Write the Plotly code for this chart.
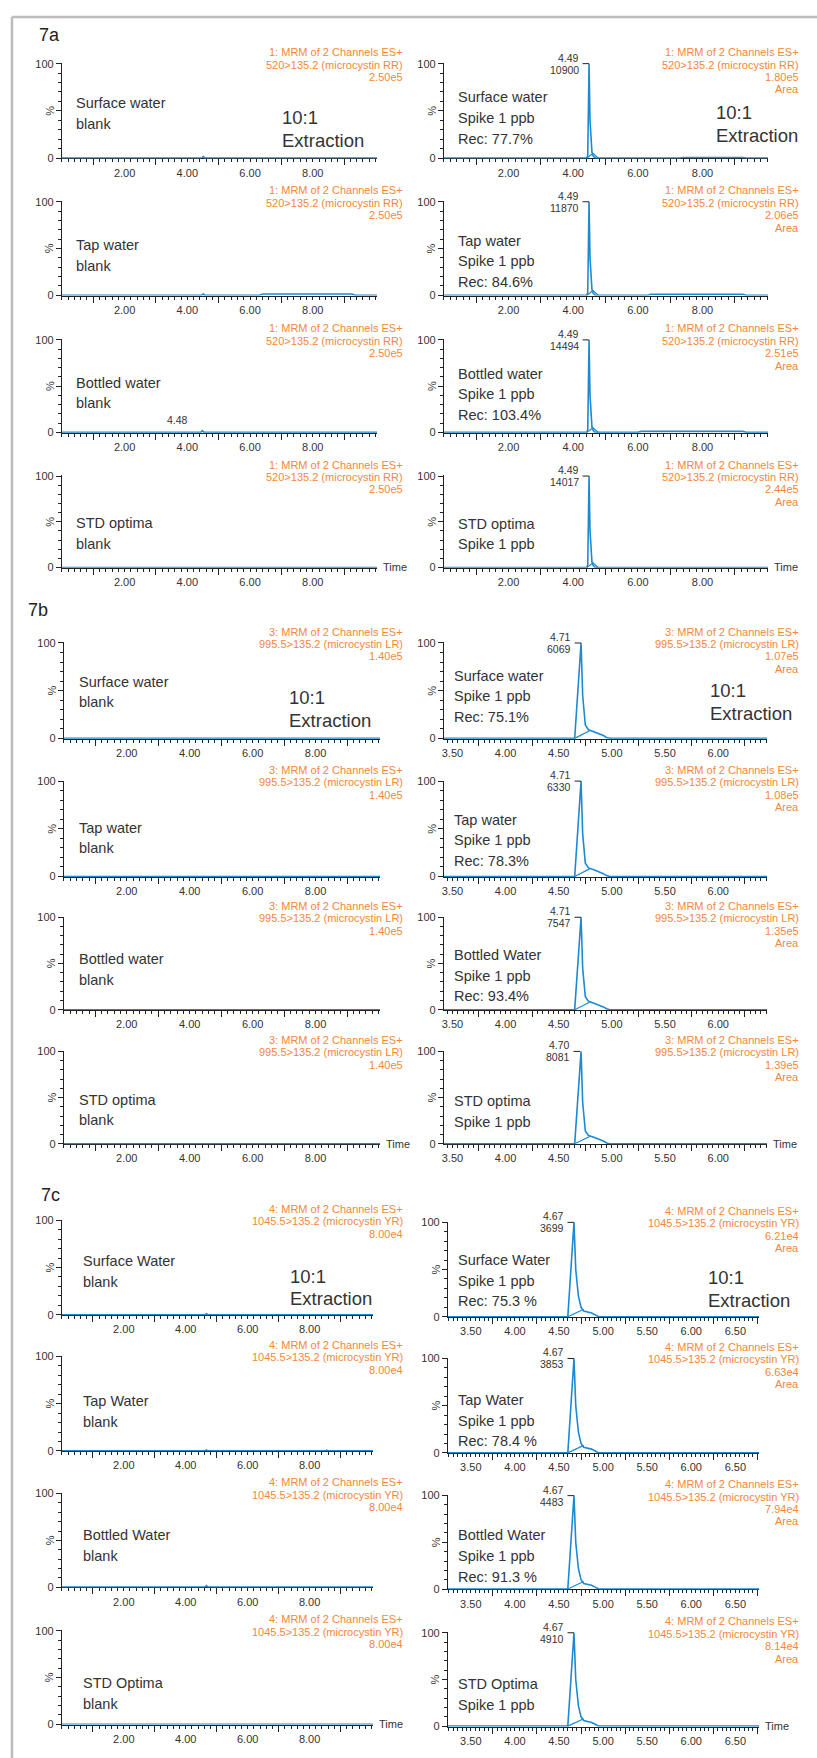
import plotly.graph_objects as go

W, H = 817, 1758

# ---------------- data ----------------
section_labels = ["7a", "7b", "7c"]

channel_line1 = ["1: MRM of 2 Channels ES+", "3: MRM of 2 Channels ES+", "4: MRM of 2 Channels ES+"]
channel_line2 = ["520>135.2 (microcystin RR)", "995.5>135.2 (microcystin LR)", "1045.5>135.2 (microcystin YR)"]

blank_names_a = ["Surface water", "Tap water", "Bottled water", "STD optima"]
blank_names_b = ["Surface water", "Tap water", "Bottled water", "STD optima"]
blank_names_c = ["Surface Water", "Tap Water", "Bottled Water", "STD Optima"]
spike_names_a = ["Surface water", "Tap water", "Bottled water", "STD optima"]
spike_names_b = ["Surface water", "Tap water", "Bottled Water", "STD optima"]
spike_names_c = ["Surface Water", "Tap Water", "Bottled Water", "STD Optima"]

recovery_a = ["Rec: 77.7%", "Rec: 84.6%", "Rec: 103.4%", ""]
recovery_b = ["Rec: 75.1%", "Rec: 78.3%", "Rec: 93.4%", ""]
recovery_c = ["Rec: 75.3 %", "Rec: 78.4 %", "Rec: 91.3 %", ""]

blank_intensity = ["2.50e5", "1.40e5", "8.00e4"]
spike_intensity_a = ["1.80e5", "2.06e5", "2.51e5", "2.44e5"]
spike_intensity_b = ["1.07e5", "1.08e5", "1.35e5", "1.39e5"]
spike_intensity_c = ["6.21e4", "6.63e4", "7.94e4", "8.14e4"]

rt_a = [4.49, 4.49, 4.49, 4.49]
rt_b = [4.71, 4.71, 4.71, 4.70]
rt_c = [4.67, 4.67, 4.67, 4.67]
area_a = [10900, 11870, 14494, 14017]
area_b = [6069, 6330, 7547, 8081]
area_c = [3699, 3853, 4483, 4910]

blank_peak_label_a3 = 4.48

# blank chromatograms (time in min, % intensity)
blank_x_a = [
    [0.0, 4.45, 4.51, 4.56, 10.05],
    [0.0, 4.45, 4.51, 4.56, 6.30, 6.40, 9.25, 9.35, 10.05],
    [0.0, 4.43, 4.48, 4.53, 10.05],
    [0.0, 6.30, 6.40, 9.25, 9.35, 10.05],
]
blank_y_a = [
    [0, 0, 1.5, 0, 0],
    [0, 0, 1.2, 0, 0, 1.2, 1.2, 0, 0],
    [0, 0, 1.8, 0, 0],
    [0, 0, 0.8, 0.8, 0, 0],
]
blank_x_b = [
    [0.0, 10.05],
    [0.0, 10.05],
    [0.0, 10.05],
    [0.0, 10.05],
]
blank_y_b = [
    [0, 0],
    [0, 0],
    [0, 0],
    [0, 0],
]
blank_x_c = [
    [0.0, 4.62, 4.67, 4.72, 10.05],
    [0.0, 4.62, 4.67, 4.72, 8.50, 8.55, 8.60, 10.05],
    [0.0, 4.62, 4.67, 4.72, 10.05],
    [0.0, 4.62, 4.67, 4.72, 10.05],
]
blank_y_c = [
    [0, 0, 1.2, 0, 0],
    [0, 0, 1.0, 0, 0, 0.8, 0, 0],
    [0, 0, 1.5, 0, 0],
    [0, 0, 0.8, 0, 0],
]

# spiked chromatograms
peak_x_a = [0.0, 4.42, 4.45, 4.49, 4.52, 4.55, 4.58, 4.62, 4.68]
peak_y_a = [0, 0, 3, 100, 40, 13, 6, 2, 0]
tail_x_a = [
    [7.30, 7.40, 9.25, 9.35, 10.03],
    [6.30, 6.40, 9.25, 9.35, 10.03],
    [6.00, 6.10, 9.25, 9.35, 10.03],
    [10.03],
]
tail_y_a = [
    [0, 0.5, 0.5, 0, 0],
    [0, 1.0, 1.0, 0, 0],
    [0, 1.0, 1.0, 0, 0],
    [0],
]
integ_x_a = [4.43, 4.61, 4.77]
integ_y_a = [0, 5, 0]

peak_x_b = [3.42, 4.65, 4.71, 4.725, 4.75, 4.78, 4.83, 4.88, 4.92, 4.95, 4.98, 6.46]
peak_y_b = [0, 0, 100, 45, 14, 9, 7, 5, 3, 1, 0, 0]
integ_x_b = [4.65, 4.79]
integ_y_b = [0, 8]

peak_x_c = [3.24, 4.60, 4.67, 4.69, 4.72, 4.75, 4.78, 4.83, 4.87, 4.91, 4.95, 6.77]
peak_y_c = [0, 0, 100, 50, 22, 10, 6, 5, 4, 2, 0, 0]
integ_x_c = [4.60, 4.78]
integ_y_c = [0, 8]

# axis tick labels
full_run_tick_labels = [2.0, 4.0, 6.0, 8.0]
full_run_long_ticks = [1.0, 3.0, 5.0, 7.0, 9.0]
zoom_b_tick_labels = [3.5, 4.0, 4.5, 5.0, 5.5, 6.0]
zoom_b_long_ticks = [3.75, 4.25, 4.75, 5.25, 5.75, 6.25]
zoom_c_tick_labels = [3.5, 4.0, 4.5, 5.0, 5.5, 6.0, 6.5]
zoom_c_long_ticks = [3.75, 4.25, 4.75, 5.25, 5.75, 6.25, 6.75]

# ---------------- styling / geometry ----------------
FONT = "Liberation Sans, Arial, Helvetica, sans-serif"
TXT = "#333333"
ORANGE = "#f5873a"
BLUE = "#1c8ad2"
AXC = "#222222"

row_px = [
    [(58, 153), (197, 291), (336, 429), (473, 565)],
    [(641, 737), (780, 876), (917, 1010), (1052, 1145)],
    [(1222, 1317), (1359, 1454), (1497, 1591), (1635, 1729)],
]
right_dy = [0, 0, 2]
left_px = [(60, 376), (62, 379), (60, 372)]
right_px = [(443, 768), (443, 767), (447, 759)]
left_range = [0.0, 10.05]
right_ranges = [[0.0, 10.03], [3.42, 6.46], [3.24, 6.77]]

header_x = [404, 801]
header_dy = [-11.5, 1, 13.5, 26]
sample_x = [[72, 75, 79], [455, 451, 455]]
sample_dy = [
    [[40, 44, 43, 47.5], [39, 47, 42, 48.5], [41, 45, 42, 53]],
    [[34, 39, 34, 48], [33, 39, 38, 50], [38, 42, 40, 52]],
]
ratio_pos = [
    [(279, 54), (286, 55), (287, 56)],
    [(714, 49), (708, 48), (706, 56)],
]
section_pos = [(35, 29), (24, 607.5), (37, 1196)]

fig = go.Figure()
layout_axes = {}
annotations = []
shapes = []


def axid(prefix, i):
    return prefix if i == 1 else f"{prefix}{i}"


def px_ann(x, y, text, size, color=TXT, xanchor="left", yanchor="middle", textangle=0):
    annotations.append(dict(xref="paper", yref="paper", x=x / W, y=1 - y / H, text=text,
                            showarrow=False, xanchor=xanchor, yanchor=yanchor, textangle=textangle,
                            font=dict(family=FONT, size=size, color=color)))


blank_x = [blank_x_a, blank_x_b, blank_x_c]
blank_y = [blank_y_a, blank_y_b, blank_y_c]
blank_names = [blank_names_a, blank_names_b, blank_names_c]
spike_names = [spike_names_a, spike_names_b, spike_names_c]
recoveries = [recovery_a, recovery_b, recovery_c]
spike_intens = [spike_intensity_a, spike_intensity_b, spike_intensity_c]
rts = [rt_a, rt_b, rt_c]
areas = [area_a, area_b, area_c]
integ_x = [integ_x_a, integ_x_b, integ_x_c]
integ_y = [integ_y_a, integ_y_b, integ_y_c]
right_labels = [full_run_tick_labels, zoom_b_tick_labels, zoom_c_tick_labels]
right_long = [full_run_long_ticks, zoom_b_long_ticks, zoom_c_long_ticks]
right_minor = [0.2, 0.05, 0.05]

tickfont = dict(family=FONT, size=11, color=TXT)

i = 0
for s in range(3):
    for col in range(2):
        for r in range(4):
            i += 1
            j = i + 24
            y100, y0 = row_px[s][r]
            if col == 1:
                y100 += right_dy[s]
                y0 += right_dy[s]
            x0, x1 = left_px[s] if col == 0 else right_px[s]
            rng = left_range if col == 0 else right_ranges[s]
            ppu = (y0 - y100) / 100.0
            bottom = y0 + 0.4 * ppu
            top = y100 - 0.6 * ppu
            ydom = [(H - bottom) / H, (H - top) / H]
            xdom = [x0 / W, x1 / W]
            xa, ya, xo = axid("x", i), axid("y", i), axid("x", j)

            if col == 0:
                labels, longs, minor = full_run_tick_labels, full_run_long_ticks, 0.2
            else:
                labels, longs, minor = right_labels[s], right_long[s], right_minor[s]

            layout_axes[axid("xaxis", i)] = dict(
                domain=xdom, range=rng, anchor=ya, tickvals=labels,
                ticktext=[f"{v:.2f}" for v in labels], ticks="outside", ticklen=3,
                tickwidth=1, tickcolor=AXC, showline=True, linecolor=AXC, linewidth=1,
                showgrid=False, zeroline=False, tickfont=tickfont, layer="below traces",
                ticklabelstandoff=1,
                minor=dict(dtick=minor, tick0=0, ticks="outside", ticklen=3, tickcolor=AXC, tickwidth=1),
                fixedrange=True)
            layout_axes[axid("xaxis", j)] = dict(
                domain=xdom, range=rng, anchor=ya, overlaying=xa, tickvals=longs,
                ticks="outside", ticklen=6, tickwidth=1, tickcolor=AXC,
                showticklabels=False, showline=False, showgrid=False, zeroline=False,
                layer="below traces", fixedrange=True)
            layout_axes[axid("yaxis", i)] = dict(
                domain=ydom, range=[-0.4, 100.6], anchor=xa, tickvals=[0, 50, 100],
                ticktext=["0", "", "100"], ticks="outside", ticklen=5, tickwidth=1,
                tickcolor=AXC, showline=True, linecolor=AXC, linewidth=1, showgrid=False,
                zeroline=False, tickfont=tickfont, layer="below traces",
                minor=dict(tickvals=[10, 20, 30, 40, 60, 70, 80, 90], ticks="outside",
                           ticklen=3, tickcolor=AXC, tickwidth=1),
                fixedrange=True)

            # traces
            if col == 0:
                xs, ys = blank_x[s][r], blank_y[s][r]
            else:
                if s == 0:
                    xs, ys = peak_x_a + tail_x_a[r], peak_y_a + tail_y_a[r]
                elif s == 1:
                    xs, ys = peak_x_b, peak_y_b
                else:
                    xs, ys = peak_x_c, peak_y_c
            fig.add_trace(go.Scatter(x=xs, y=ys, mode="lines", xaxis=xa, yaxis=ya,
                                     line=dict(color=BLUE, width=1.6), showlegend=False,
                                     hoverinfo="skip"))
            if col == 1:
                fig.add_trace(go.Scatter(x=integ_x[s], y=integ_y[s], mode="lines", xaxis=xa, yaxis=ya,
                                         line=dict(color=BLUE, width=1.2), showlegend=False,
                                         hoverinfo="skip"))
            # invisible anchor trace for the overlay tick axis
            fig.add_trace(go.Scatter(x=[rng[0]], y=[0], mode="markers", xaxis=xo, yaxis=ya,
                                     marker=dict(opacity=0, size=1), showlegend=False,
                                     hoverinfo="skip"))

            # header (orange)
            hlines = [channel_line1[s], channel_line2[s],
                      blank_intensity[s] if col == 0 else spike_intens[s][r]]
            if col == 1:
                hlines.append("Area")
            for k, t in enumerate(hlines):
                px_ann(header_x[col], y100 + header_dy[k], t, 11, ORANGE, xanchor="right")

            # sample description
            if col == 0:
                slines = [blank_names[s][r], "blank"]
            else:
                slines = [spike_names[s][r], "Spike 1 ppb"]
                if recoveries[s][r]:
                    slines.append(recoveries[s][r])
            for k, t in enumerate(slines):
                px_ann(sample_x[col][s], y100 + sample_dy[col][s][r] + 20.7 * k, t, 14.5)

            if r == 0:
                rx, rdy = ratio_pos[col][s]
                px_ann(rx, y100 + rdy, "10:1", 18.5)
                px_ann(rx, y100 + rdy + 23, "Extraction", 18.5)

            # % label
            px_ann(x0 - 12, (y0 + y100) / 2, "%", 11, xanchor="center", textangle=-90)

            if r == 3:
                px_ann(x1 + 4, y0, "Time", 11)

            # peak labels
            if col == 1:
                rt = rts[s][r]
                annotations.append(dict(xref=xa, yref=ya, x=rt, y=100, text=f"{rt:.2f}",
                                        showarrow=False, xanchor="right", yanchor="middle",
                                        xshift=-8, yshift=6, font=dict(family=FONT, size=10.5, color=TXT)))
                annotations.append(dict(xref=xa, yref=ya, x=rt, y=100, text=f"{areas[s][r]}",
                                        showarrow=False, xanchor="right", yanchor="middle",
                                        xshift=-8, yshift=-6, font=dict(family=FONT, size=10.5, color=TXT)))
                annotations.append(dict(xref=xa, yref=ya, x=rt, y=100, text="", showarrow=True,
                                        ax=-8, ay=0, arrowhead=0, arrowwidth=1, arrowcolor=AXC,
                                        standoff=0, startstandoff=0))
            if s == 0 and col == 0 and r == 2:
                annotations.append(dict(xref=xa, yref=ya, x=blank_peak_label_a3, y=1.8,
                                        text=f"{blank_peak_label_a3:.2f}", showarrow=False,
                                        xanchor="right", yanchor="bottom", xshift=-12, yshift=3,
                                        font=dict(family=FONT, size=10.5, color=TXT)))

for s, (sx, sy) in enumerate(section_pos):
    px_ann(sx, sy, section_labels[s], 18, "#222222")

# frame (left + top rule)
shapes.append(dict(type="line", xref="paper", yref="paper", x0=10 / W, x1=10 / W,
                   y0=1 - 11 / H, y1=-0.01, line=dict(color="#bcbcbc", width=2.5)))
shapes.append(dict(type="line", xref="paper", yref="paper", x0=10 / W, x1=1.01,
                   y0=1 - 11 / H, y1=1 - 11 / H, line=dict(color="#bcbcbc", width=2.5)))

fig.update_layout(
    width=W, height=H, autosize=False,
    margin=dict(l=0, r=0, t=0, b=0),
    paper_bgcolor="white", plot_bgcolor="white",
    showlegend=False,
    annotations=annotations, shapes=shapes,
    **layout_axes,
)

fig.write_html("out.html", config={"displayModeBar": False},
               post_script="document.body.style.margin='0px';document.body.style.overflow='hidden';")
